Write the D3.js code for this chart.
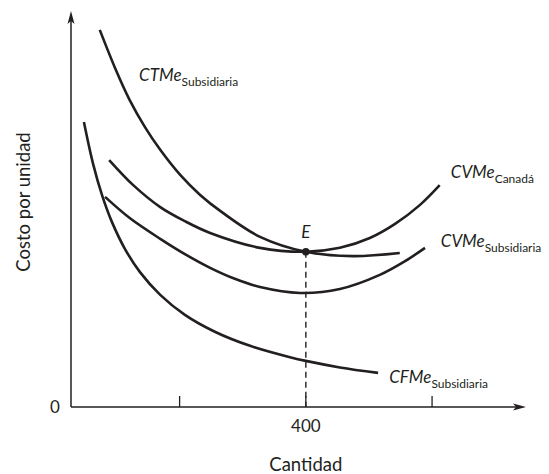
<!DOCTYPE html>
<html>
<head>
<meta charset="utf-8">
<script src="https://cdn.jsdelivr.net/npm/d3@7"></script>
<style>
  html, body { margin: 0; padding: 0; background: #fff; }
  svg { display: block; }
  text { font-family: Lato, "Open Sans", sans-serif; fill: #231f20; }
</style>
</head>
<body>
<svg id="chart" width="549" height="474"></svg>
<script>
// ---- Data (quantity, cost per unit) ----
const ctmeSubsidiaria = [
  [49, 96.2], [75, 86.5], [100, 78.3], [126, 71.4], [152, 65.6], [186, 59.2],
  [220, 54.1], [257, 49.7], [322, 43.4], [400, 39.6], [480, 38.5], [560, 39.3]
];
const cvmeCanada = [
  [65, 63.0], [106, 56.6], [152, 51.0], [194, 47.4], [237, 44.4], [322, 40.6],
  [400, 39.6], [458, 40.6], [509, 43.1], [552, 46.7], [594, 51.5], [628, 56.6]
];
const cvmeSubsidiaria = [
  [58, 53.6], [100, 48.2], [152, 42.9], [194, 39.0], [237, 35.5], [279, 32.7],
  [322, 30.6], [390, 29.1], [458, 30.1], [526, 33.7], [569, 37.2], [603, 40.6]
];
const cfmeSubsidiaria = [
  [22, 72.7], [37.5, 62.1], [53, 54.0], [70, 47.1], [92, 40.3], [117.5, 34.4],
  [152, 28.6], [194, 23.5], [245, 19.2], [305, 15.6], [373, 12.7], [402, 11.7],
  [458, 10.1], [523, 8.7]
];
const equilibrium = [400, 39.6];
const equilibriumLabel = "E";
const quantityTicks = [185, 400, 615];
const quantityTickLabels = ["", "400", ""];
const curveNames = ["CTMe", "CVMe", "CVMe", "CFMe"];
const curveSubs = ["Subsidiaria", "Canadá", "Subsidiaria", "Subsidiaria"];
const xTitle = "Cantidad";
const yTitle = "Costo por unidad";
const originLabel = "0";

// ---- Layout ----
const svg = d3.select("#chart");
const ink = "#231f20";
const x = d3.scaleLinear().domain([0, 775]).range([71, 526]);
const y = d3.scaleLinear().domain([0, 100]).range([407, 15]);

// Axes
const xAxisG = svg.append("g");
xAxisG.append("line")
  .attr("x1", x(0)).attr("x2", x(775) - 6)
  .attr("y1", y(0)).attr("y2", y(0))
  .attr("stroke", ink).attr("stroke-width", 1.5);
xAxisG.append("path")
  .attr("d", `M${x(775)},${y(0)} L${x(775) - 13},${y(0) - 3.5} L${x(775) - 10},${y(0)} L${x(775) - 13},${y(0) + 3.5} Z`)
  .attr("fill", ink);

const yAxisG = svg.append("g");
yAxisG.append("line")
  .attr("x1", x(0)).attr("x2", x(0))
  .attr("y1", y(0)).attr("y2", y(101) + 4)
  .attr("stroke", ink).attr("stroke-width", 1.5);
yAxisG.append("path")
  .attr("d", `M${x(0)},${y(101)} L${x(0) - 3.5},${y(101) + 13} L${x(0)},${y(101) + 10} L${x(0) + 3.5},${y(101) + 13} Z`)
  .attr("fill", ink);

// Ticks (upward)
const ticks = svg.append("g").selectAll("g").data(quantityTicks).join("g");
ticks.append("line")
  .attr("x1", d => x(d)).attr("x2", d => x(d))
  .attr("y1", y(0)).attr("y2", y(0) - 11)
  .attr("stroke", ink).attr("stroke-width", 1.3);
ticks.append("text")
  .attr("x", d => x(d)).attr("y", y(0) + 25)
  .attr("text-anchor", "middle")
  .attr("font-size", 17)
  .text((d, i) => quantityTickLabels[i]);

svg.append("text")
  .attr("x", x(0) - 16).attr("y", y(0) + 6)
  .attr("text-anchor", "middle").attr("font-size", 17)
  .text(originLabel);

// Axis titles
svg.append("text")
  .attr("x", x(400)).attr("y", 471)
  .attr("text-anchor", "middle").attr("font-size", 18.5)
  .text(xTitle);
svg.append("text")
  .attr("transform", `translate(30, 202) rotate(-90)`)
  .attr("text-anchor", "middle").attr("font-size", 18.5)
  .text(yTitle);

// Dashed drop line
svg.append("line")
  .attr("x1", x(equilibrium[0])).attr("x2", x(equilibrium[0]))
  .attr("y1", y(equilibrium[1])).attr("y2", y(0))
  .attr("stroke", ink).attr("stroke-width", 1.4)
  .attr("stroke-dasharray", "6,4");

// Curves
const line = d3.line()
  .x(d => x(d[0])).y(d => y(d[1]))
  .curve(d3.curveCatmullRom.alpha(0.5));
const series = [ctmeSubsidiaria, cvmeCanada, cvmeSubsidiaria, cfmeSubsidiaria];
svg.append("g").selectAll("path").data(series).join("path")
  .attr("d", line)
  .attr("fill", "none")
  .attr("stroke", ink)
  .attr("stroke-width", 2.6)
  .attr("stroke-linecap", "butt");

// Equilibrium point
svg.append("circle")
  .attr("cx", x(equilibrium[0])).attr("cy", y(equilibrium[1]))
  .attr("r", 3.8).attr("fill", ink);
svg.append("text")
  .attr("x", x(equilibrium[0])).attr("y", y(equilibrium[1]) - 14)
  .attr("text-anchor", "middle").attr("font-size", 17)
  .attr("font-style", "italic")
  .text(equilibriumLabel);

// Curve labels (anchors in data units)
const labelAnchors = [[116, 83.2], [647, 58.4], [630, 40.8], [542, 6.1]];
const labels = svg.append("g").selectAll("text").data(curveNames).join("text")
  .attr("x", (d, i) => x(labelAnchors[i][0]))
  .attr("y", (d, i) => y(labelAnchors[i][1]))
  .attr("font-size", 17);
labels.append("tspan").attr("font-style", "italic").text(d => d);
labels.append("tspan").attr("font-size", 12).attr("dy", 5)
  .text((d, i) => curveSubs[i]);
</script>
</body>
</html>
